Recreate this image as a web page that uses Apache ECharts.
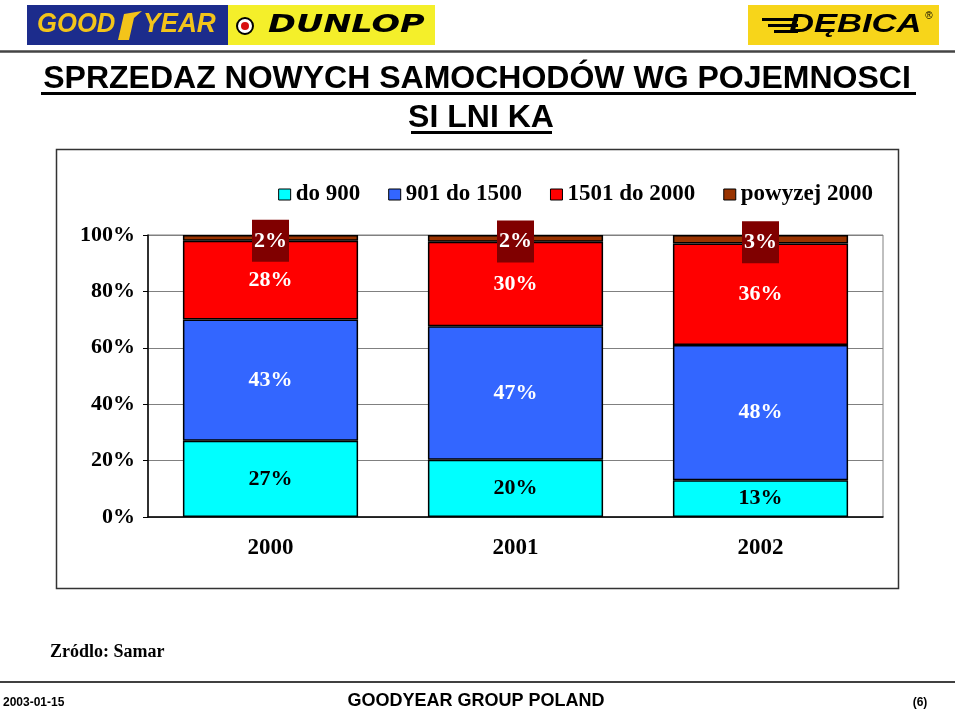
<!DOCTYPE html>
<html><head><meta charset="utf-8">
<script src="https://cdn.jsdelivr.net/npm/echarts@6/dist/echarts.min.js"></script>
<style>html,body{margin:0;padding:0;background:#fff}#c{width:960px;height:710px}</style>
</head><body><div id="c"></div>
<script>
// ---- data ----
const categories = ['2000', '2001', '2002'];
const seriesNames = ['do 900', '901 do 1500', '1501 do 2000', 'powyzej 2000'];
const do900 = [27, 20.3, 13];
const od901do1500 = [43, 47.3, 48];
const od1501do2000 = [28, 30.0, 36];
const powyzej2000 = [2, 2.4, 3];
const yTickMin = 0, yTickMax = 100, yTickStep = 20;

const SERIF = '"Liberation Serif", "Times New Roman", serif';
const SANS = '"Liberation Sans", Arial, sans-serif';
const colors = ['#00FFFF', '#3366FF', '#FF0000', '#993300'];
const labelColors = ['#000', '#fff', '#fff', '#fff'];
const values = [do900, od901do1500, od1501do2000, powyzej2000];

const series = seriesNames.map((name, i) => ({
  name: name,
  type: 'bar',
  stack: 'total',
  data: values[i],
  barWidth: '71.5%',
  itemStyle: { color: colors[i], borderColor: '#000', borderWidth: 1.5 },
  emphasis: { disabled: true },
  label: Object.assign({
    show: true,
    position: 'inside',
    formatter: p => Math.round(p.value) + '%',
    color: labelColors[i],
    fontFamily: SERIF,
    fontWeight: 'bold',
    fontSize: 22
  }, i === 3 ? { backgroundColor: '#800000', padding: [10, 2, 10, 2], lineHeight: 22, offset: [0, 3] } : {})
}));

const graphics = [
  // top logos
  { type: 'rect', shape: { x: 27, y: 5, width: 201, height: 40 }, style: { fill: '#1c2c8c' } },
  { type: 'text', x: 37, y: 25, scaleX: 0.95, style: { text: 'GOOD', font: 'italic 900 27px ' + SANS, fill: '#f3c41a', textAlign: 'left', textVerticalAlign: 'middle' } },
  { type: 'polygon', shape: { points: [[118, 40], [124, 14], [142, 11], [134, 18], [129, 40]] }, style: { fill: '#f3c41a' } },
  { type: 'text', x: 143, y: 25, scaleX: 0.97, style: { text: 'YEAR', font: 'italic 900 27px ' + SANS, fill: '#f3c41a', textAlign: 'left', textVerticalAlign: 'middle' } },
  { type: 'rect', shape: { x: 228, y: 5, width: 207, height: 40 }, style: { fill: '#f4ef2a' } },
  { type: 'circle', shape: { cx: 245, cy: 26, r: 8 }, style: { fill: '#fff', stroke: '#000', lineWidth: 2 } },
  { type: 'circle', shape: { cx: 245, cy: 26, r: 4 }, style: { fill: '#d81010' } },
  { type: 'text', x: 268, y: 26, scaleX: 1.4, style: { text: 'DUNLOP', font: 'italic 900 24px "DejaVu Sans", ' + SANS, fill: '#000', textAlign: 'left', textVerticalAlign: 'middle' } },
  { type: 'rect', shape: { x: 748, y: 5, width: 191, height: 40 }, style: { fill: '#f7d51a' } },
  { type: 'rect', shape: { x: 762, y: 18, width: 36, height: 3 }, style: { fill: '#000' } },
  { type: 'rect', shape: { x: 768, y: 24, width: 30, height: 3 }, style: { fill: '#000' } },
  { type: 'rect', shape: { x: 774, y: 30, width: 24, height: 3 }, style: { fill: '#000' } },
  { type: 'text', x: 789, y: 25, scaleX: 1.33, style: { text: 'DĘBICA', font: 'italic 900 26px ' + SANS, fill: '#000', textAlign: 'left', textVerticalAlign: 'middle' } },
  { type: 'text', x: 929, y: 16, style: { text: '®', font: '10px ' + SANS, fill: '#000', textAlign: 'center', textVerticalAlign: 'middle' } },
  { type: 'line', shape: { x1: 0, y1: 51.5, x2: 955, y2: 51.5 }, style: { stroke: '#444', lineWidth: 2.5 } },
  // title
  { type: 'text', x: 477, y: 79, style: { text: 'SPRZEDAZ NOWYCH SAMOCHODÓW WG POJEMNOSCI', font: 'bold 32px ' + SANS, fill: '#000', textAlign: 'center', textVerticalAlign: 'middle' } },
  { type: 'rect', shape: { x: 41, y: 92, width: 875, height: 3 }, style: { fill: '#000' } },
  { type: 'text', x: 481, y: 118, style: { text: 'SI LNI KA', font: 'bold 32px ' + SANS, fill: '#000', textAlign: 'center', textVerticalAlign: 'middle' } },
  { type: 'rect', shape: { x: 411, y: 131, width: 141, height: 3 }, style: { fill: '#000' } },
  // chart box
  { type: 'rect', z: -1, shape: { x: 56.5, y: 149.5, width: 842, height: 439 }, style: { fill: 'none', stroke: '#333', lineWidth: 1.5 } },
  // source
  { type: 'text', x: 50, y: 652, style: { text: 'Zródlo: Samar', font: 'bold 18px ' + SERIF, fill: '#000', textAlign: 'left', textVerticalAlign: 'middle' } },
  // footer
  { type: 'line', shape: { x1: 0, y1: 682, x2: 955, y2: 682 }, style: { stroke: '#000', lineWidth: 1.5 } },
  { type: 'text', x: 3, y: 703, style: { text: '2003-01-15', font: 'bold 12px ' + SANS, fill: '#000', textAlign: 'left', textVerticalAlign: 'middle' } },
  { type: 'text', x: 476, y: 701, style: { text: 'GOODYEAR GROUP POLAND', font: 'bold 18px ' + SANS, fill: '#000', textAlign: 'center', textVerticalAlign: 'middle' } },
  { type: 'text', x: 920, y: 703, style: { text: '(6)', font: 'bold 12px ' + SANS, fill: '#000', textAlign: 'center', textVerticalAlign: 'middle' } }
];

const chart = echarts.init(document.getElementById('c'), null, { renderer: 'canvas' });
chart.setOption({
  backgroundColor: '#fff',
  animation: false,
  legend: {
    data: seriesNames,
    right: 82,
    top: 178,
    itemWidth: 12,
    itemHeight: 11,
    itemGap: 28,
    icon: 'rect',
    itemStyle: { borderWidth: 1 },
    textStyle: { fontFamily: SERIF, fontWeight: 'bold', fontSize: 23, color: '#000' }
  },
  grid: { left: 148, top: 235, width: 735, height: 282, show: true, borderColor: '#808080', borderWidth: 1, backgroundColor: '#fff' },
  xAxis: {
    type: 'category',
    data: categories,
    axisTick: { show: false },
    axisLine: { lineStyle: { color: '#000', width: 1.5 } },
    axisLabel: { margin: 20, fontFamily: SERIF, fontWeight: 'bold', fontSize: 23, color: '#000' }
  },
  yAxis: {
    type: 'value',
    min: yTickMin, max: yTickMax, interval: yTickStep,
    axisLine: { show: true, lineStyle: { color: '#000', width: 1.5 } },
    axisTick: { show: true, length: 5, lineStyle: { color: '#000' } },
    splitLine: { lineStyle: { color: '#808080', width: 1 } },
    axisLabel: { margin: 13, formatter: '{value}%', fontFamily: SERIF, fontWeight: 'bold', fontSize: 22, color: '#000' }
  },
  series: series,
  graphic: { elements: graphics }
});
</script></body></html>
